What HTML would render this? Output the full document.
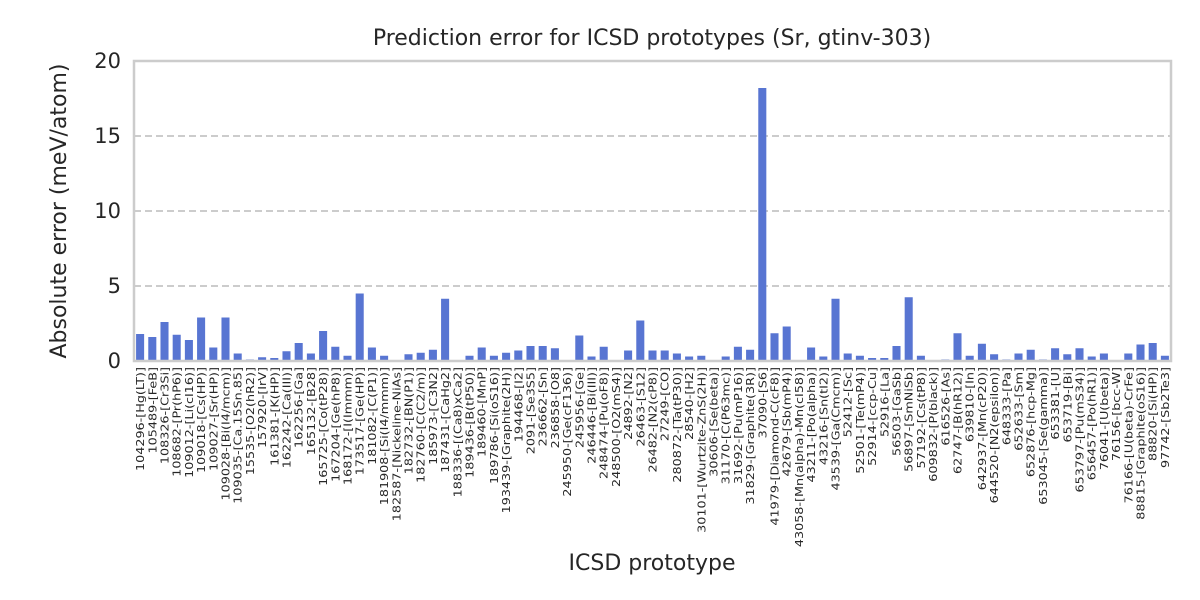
<!DOCTYPE html>
<html><head><meta charset="utf-8"><style>
body{margin:0;background:#fff;}
svg{display:block;font-family:"DejaVu Sans","Liberation Sans",sans-serif;}
</style></head><body>
<svg id="chart" width="1200" height="600" viewBox="0 0 1200 600">
<rect width="1200" height="600" fill="#fff"/>
<text x="652" y="45" text-anchor="middle" font-size="22" fill="#262626">Prediction error for ICSD prototypes (Sr, gtinv-303)</text>
<text x="652" y="570" text-anchor="middle" font-size="22" fill="#262626">ICSD prototype</text>
<text transform="translate(66,211) rotate(-90)" text-anchor="middle" font-size="22" fill="#262626">Absolute error (meV/atom)</text>
<g id="grid"></g><g id="bars"></g><g id="yticks"></g><g id="xticks"></g>
<rect x="134" y="61" width="1037" height="300" fill="none" stroke="#cccccc" stroke-width="2.5"/>
</svg>
<script>
const categories=["104296-[Hg(LT)]","105489-[FeB]","108326-[Cr3Si]","108682-[Pr(hP6)]","109012-[Li(cI16)]","109018-[Cs(HP)]","109027-[Sr(HP)]","109028-[Bi(I4/mcm)]","109035-[Ca.15Sn.85]","15535-[O2(hR2)]","157920-[IrV]","161381-[K(HP)]","162242-[Ca(III)]","162256-[Ga]","165132-[B28]","165725-[Co(tP28)]","167204-[Ge(hP8)]","168172-[I(Immm)]","173517-[Ge(HP)]","181082-[C(P1)]","181908-[Si(I4/mmm)]","182587-[Nickeline-NiAs]","182732-[BN(P1)]","182760-[C(C2/m)]","185973-[C3N2]","187431-[CaHg2]","188336-[(Ca8)xCa2]","189436-[B(tP50)]","189460-[MnP]","189786-[Si(oS16)]","193439-[Graphite(2H)]","194468-[I2]","2091-[Se3S5]","236662-[Sn]","236858-[O8]","245950-[Ge(cF136)]","245956-[Ge]","246446-[Bi(III)]","248474-[Pu(oF8)]","248500-[O2(mS4)]","24892-[N2]","26463-[S12]","26482-[N2(cP8)]","27249-[CO]","280872-[Ta(tP30)]","28540-[H2]","30101-[Wurtzite-ZnS(2H)]","30606-[Se(beta)]","31170-[C(P63mc)]","31692-[Pu(mP16)]","31829-[Graphite(3R)]","37090-[S6]","41979-[Diamond-C(cF8)]","42679-[Sb(mP4)]","43058-[Mn(alpha)-Mn(cI58)]","43211-[Po(alpha)]","43216-[Sn(tI2)]","43539-[Ga(Cmcm)]","52412-[Sc]","52501-[Te(mP4)]","52914-[ccp-Cu]","52916-[La]","56503-[GaSb]","56897-[SmNiSb]","57192-[Cs(tP8)]","609832-[P(black)]","616526-[As]","62747-[B(hR12)]","639810-[In]","642937-[Mn(cP20)]","644520-[N2(epsilon)]","648333-[Pa]","652633-[Sm]","652876-[hcp-Mg]","653045-[Se(gamma)]","653381-[U]","653719-[Bi]","653797-[Pu(mS34)]","656457-[Po(hR1)]","76041-[U(beta)]","76156-[bcc-W]","76166-[U(beta)-CrFe]","88815-[Graphite(oS16)]","88820-[Si(HP)]","97742-[Sb2Te3]"];
const values=[1.8,1.6,2.6,1.75,1.4,2.9,0.9,2.9,0.5,0.1,0.25,0.2,0.65,1.2,0.5,2.0,0.95,0.35,4.5,0.9,0.35,0,0.45,0.55,0.75,4.15,0,0.35,0.9,0.35,0.55,0.7,1.0,1.0,0.85,0,1.7,0.3,0.95,0,0.7,2.7,0.7,0.7,0.5,0.3,0.35,0,0.3,0.95,0.75,18.2,1.85,2.3,0,0.9,0.3,4.15,0.5,0.35,0.2,0.2,1.0,4.25,0.35,0,0.1,1.85,0.35,1.15,0.45,0.1,0.5,0.75,0.1,0.85,0.45,0.85,0.3,0.5,0,0.5,1.1,1.2,0.35];
const yTicks=[0,5,10,15,20];
const NS="http://www.w3.org/2000/svg";
const X0=134,X1=1171,Y0=361,Y1=61,YMAX=20;
const step=(X1-X0)/categories.length;
const xc=i=>X0+step*(i+0.5);
const y=v=>Y0-(v/YMAX)*(Y0-Y1);
function mk(t,a,p){const e=document.createElementNS(NS,t);for(const k in a)e.setAttribute(k,a[k]);p.appendChild(e);return e;}
const grid=document.getElementById('grid'),bars=document.getElementById('bars'),yt=document.getElementById('yticks'),xt=document.getElementById('xticks');
yTicks.forEach(t=>{
  if(t>0&&t<YMAX){const l=mk('line',{x1:X0,x2:X1,y1:y(t),y2:y(t),stroke:'#cccccc','stroke-width':2,'stroke-dasharray':'7,4'},grid);
  
  }
  const tx=mk('text',{x:X0-13,y:y(t)+7,'text-anchor':'end','font-size':21,fill:'#262626'},yt);tx.textContent=t;
  
  
});
const bw=step*0.66;
categories.forEach((c,i)=>{
  const v=values[i];
  const r=mk('rect',{x:xc(i)-bw/2,y:y(v),width:bw,height:Y0-y(v),fill:'#5875d2'},bars);
  
  
  const tx=mk('text',{transform:`translate(${xc(i)+4},367) rotate(-90) scale(1.16,1)`,'text-anchor':'end','font-size':11,fill:'#262626'},xt);
  tx.textContent=c;
  
  
});
</script>
</body></html>
